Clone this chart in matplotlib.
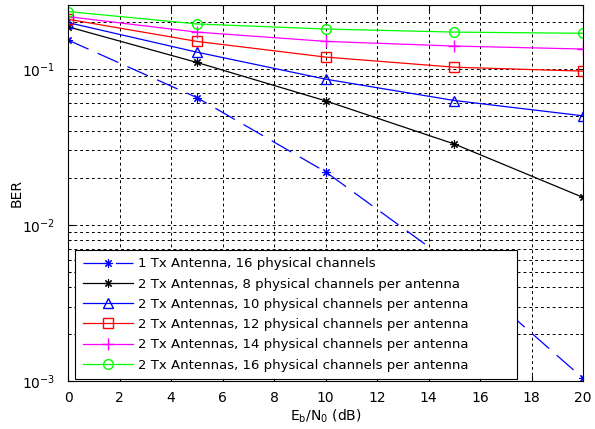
import matplotlib
matplotlib.use("Agg")
import matplotlib.pyplot as plt
from matplotlib.ticker import LogLocator, NullFormatter, MultipleLocator

plt.rcParams['font.family'] = ['DejaVu Sans']
plt.rcParams['mathtext.fontset'] = 'dejavusans'

ebno = [0, 5, 10, 15, 20]
labels = [
    "1 Tx Antenna, 16 physical channels",
    "2 Tx Antennas, 8 physical channels per antenna",
    "2 Tx Antennas, 10 physical channels per antenna",
    "2 Tx Antennas, 12 physical channels per antenna",
    "2 Tx Antennas, 14 physical channels per antenna",
    "2 Tx Antennas, 16 physical channels per antenna",
]
ber_1tx_16 = [0.153, 0.0655, 0.0219, 0.0055, 0.00104]
ber_2tx_8 = [0.186, 0.110, 0.0624, 0.033, 0.0150]
ber_2tx_10 = [0.198, 0.128, 0.0859, 0.0627, 0.050]
ber_2tx_12 = [0.208, 0.150, 0.119, 0.1025, 0.0967]
ber_2tx_14 = [0.216, 0.172, 0.150, 0.140, 0.134]
ber_2tx_16 = [0.233, 0.194, 0.180, 0.172, 0.169]

fig = plt.figure(figsize=(5.95, 4.29), dpi=100)
ax = fig.add_axes([0.1143, 0.1119, 0.8657, 0.8761])

lw = 0.9
ast = (8, 2, 0)
ax.semilogy(ebno, ber_1tx_16, color='#0000ff', marker=ast, ms=6, mew=0.8, lw=lw,
            linestyle=(0, (18, 8)), label=labels[0])
ax.semilogy(ebno, ber_2tx_8, color='black', marker=ast, ms=6, mew=0.8, lw=lw, label=labels[1])
ax.semilogy(ebno, ber_2tx_10, color='#0000ff', marker='^', ms=7, mfc='none', lw=lw, label=labels[2])
ax.semilogy(ebno, ber_2tx_12, color='#ff0000', marker='s', ms=7, mfc='none', lw=lw, label=labels[3])
ax.semilogy(ebno, ber_2tx_14, color='#ff00ff', marker='+', ms=8, lw=lw, label=labels[4])
ax.semilogy(ebno, ber_2tx_16, color='#00ff00', marker='o', ms=7, mfc='none', lw=lw, label=labels[5])

ax.set_xlim(0, 20)
ax.set_ylim(1e-3, 0.256)
ax.xaxis.set_major_locator(MultipleLocator(2))
ax.yaxis.set_major_locator(LogLocator(base=10, numticks=10))
ax.yaxis.set_minor_locator(LogLocator(base=10, subs=range(2, 10), numticks=20))
ax.yaxis.set_minor_formatter(NullFormatter())

ax.grid(True, which='both', axis='y', color='black', linestyle=(0, (3, 3)), lw=0.7)
ax.grid(True, which='major', axis='x', color='black', linestyle=(0, (3, 3)), lw=0.7)

ax.tick_params(which='both', direction='in', top=True, right=True, labelsize=10)
ax.tick_params(which='major', length=4)
ax.tick_params(which='minor', length=2)
ax.tick_params(axis='x', which='major', pad=7.5)
ax.tick_params(axis='y', which='major', pad=9)
for s in ax.spines.values():
    s.set_linewidth(0.8)

ax.set_xlabel(r'E$_\mathrm{b}$/N$_\mathrm{0}$ (dB)', fontsize=10, labelpad=1.5)
ax.set_ylabel('BER', fontsize=10, labelpad=-1)

leg = ax.legend(loc='lower left', bbox_to_anchor=(0.0136, 0.005, 0.858, 0.0), mode='expand',
                borderaxespad=0.0, fontsize=9.5,
                frameon=True, fancybox=False, edgecolor='black', framealpha=1,
                handlelength=3.8, handletextpad=0.4, borderpad=0.57, labelspacing=0.55)
leg.get_frame().set_linewidth(0.8)

fig.savefig('out.png', dpi=100)
